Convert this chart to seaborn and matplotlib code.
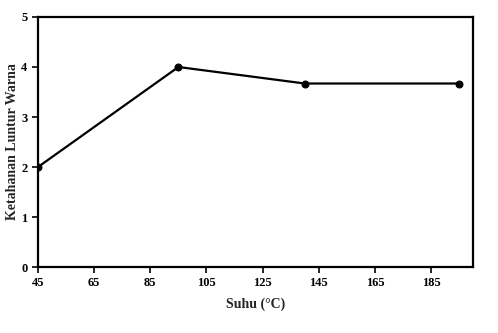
import matplotlib
matplotlib.use("Agg")
import matplotlib.pyplot as plt
import seaborn as sns
import pandas as pd

suhu = [45, 95, 140, 195]
ketahanan = [2.0, 4.0, 3.67, 3.67]
xticks = [45, 65, 85, 105, 125, 145, 165, 185]
yticks = [0, 1, 2, 3, 4, 5]

sns.set_style("ticks")
plt.rcParams['font.family'] = ['Liberation Serif', 'DejaVu Serif']
plt.rcParams['font.weight'] = 'bold'

df = pd.DataFrame({"Suhu": suhu, "Ketahanan": ketahanan})

fig = plt.figure(figsize=(4.98, 3.33), dpi=100)
ax = fig.add_axes([0.0763, 0.198, 0.874, 0.751])
sns.lineplot(data=df, x="Suhu", y="Ketahanan", ax=ax, color="black",
             marker="o", markersize=5, linewidth=1.6, markeredgecolor="black")
ax.set_xlim(45, 200)
ax.set_ylim(0, 5)
ax.set_xticks(xticks)
ax.set_yticks(yticks)
for s in ax.spines.values():
    s.set_linewidth(1.6)
    s.set_color("black")
ax.tick_params(direction="out", length=4, width=1.2, labelsize=9, colors="black")
for lbl in ax.get_xticklabels() + ax.get_yticklabels():
    lbl.set_fontweight("bold")
ax.set_xlabel("Suhu (°C)", fontsize=10, fontweight="bold", labelpad=6)
ax.set_ylabel("Ketahanan Luntur Warna", fontsize=10, fontweight="bold", labelpad=2)
fig.savefig("out.png", dpi=100)
